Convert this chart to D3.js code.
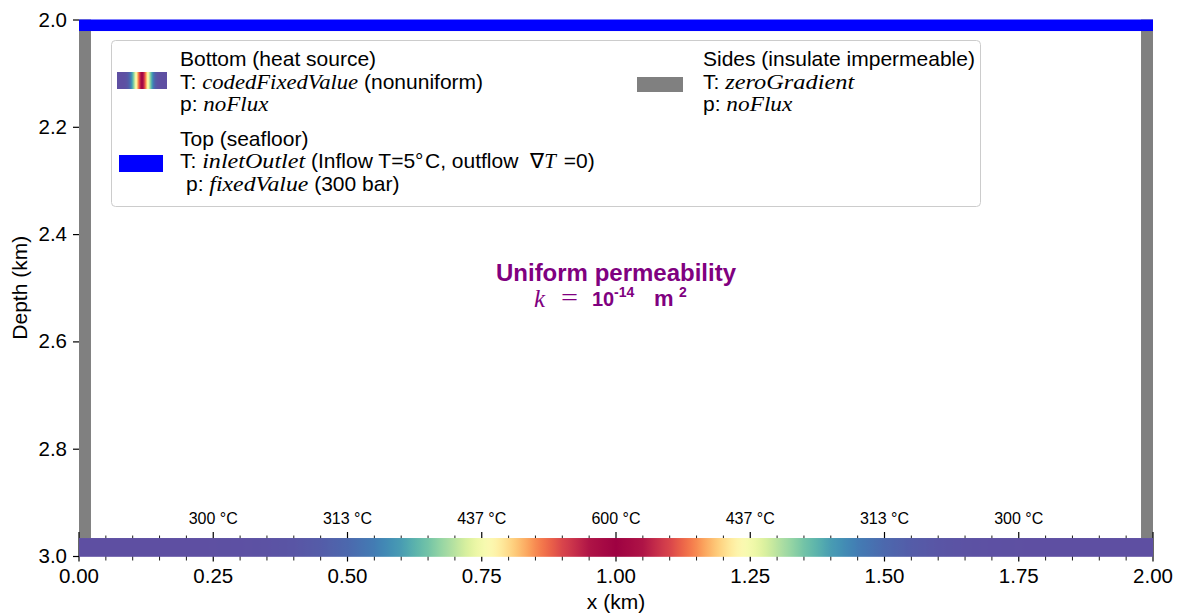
<!DOCTYPE html>
<html>
<head>
<meta charset="utf-8">
<script src="https://cdn.jsdelivr.net/npm/d3@7/dist/d3.min.js"></script>
<style>
  html, body { margin: 0; padding: 0; background: #fff; }
  svg { display: block; }
  text { font-family: "Liberation Sans", Arial, sans-serif; }
</style>
</head>
<body>
<svg id="chart" width="1180" height="614"></svg>
<script>
// ---------------- data ----------------
const xTicks = [0, 0.25, 0.5, 0.75, 1.0, 1.25, 1.5, 1.75, 2.0];
const xMinorTicks = d3.range(0, 41).map(i => i * 0.05);
const yTicks = [2.0, 2.2, 2.4, 2.6, 2.8, 3.0];
// bottom boundary temperature (°C) sampled along x (km)
const bottomX = [0.00, 0.05, 0.10, 0.15, 0.20, 0.25, 0.30, 0.35, 0.40, 0.45,
                 0.50, 0.55, 0.60, 0.65, 0.70, 0.75, 0.80, 0.85, 0.90, 0.95,
                 1.00, 1.05, 1.10, 1.15, 1.20, 1.25, 1.30, 1.35, 1.40, 1.45,
                 1.50, 1.55, 1.60, 1.65, 1.70, 1.75, 1.80, 1.85, 1.90, 1.95, 2.00];
const bottomT = [300.0, 300.0, 300.0, 300.0, 300.1, 300.3, 300.7, 301.5, 303.3, 306.8,
                 313.2, 323.9, 340.6, 364.9, 397.4, 437.3, 482.0, 526.4, 564.8, 590.8,
                 600.0, 590.8, 564.8, 526.4, 482.0, 437.3, 397.4, 364.9, 340.6, 323.9,
                 313.2, 306.8, 303.3, 301.5, 300.7, 300.3, 300.1, 300.0, 300.0, 300.0, 300.0];
const tempLabelX = [0.25, 0.5, 0.75, 1.0, 1.25, 1.5, 1.75];
const tempLabelT = [300, 313, 437, 600, 437, 313, 300];
const tRange = [300, 600];

// ---------------- setup ----------------
const svg = d3.select("#chart");
const x = d3.scaleLinear().domain([0, 2]).range([79, 1153]);
const y = d3.scaleLinear().domain([2, 3]).range([19.5, 556]);
const tNorm = d3.scaleLinear().domain(tRange).range([0, 1]).clamp(true);
const tColor = T => d3.interpolateSpectral(1 - tNorm(T));
const tAt = d3.scaleLinear().domain(bottomX).range(bottomT);

const defs = svg.append("defs");
const grad = defs.append("linearGradient").attr("id", "heatGrad")
  .attr("x1", "0%").attr("x2", "100%").attr("y1", "0%").attr("y2", "0%");
d3.range(0, 401).forEach(i => {
  const xv = i / 200;
  grad.append("stop").attr("offset", (xv / 2 * 100) + "%").attr("stop-color", tColor(tAt(xv)));
});

// side walls (gray)
const sideW = 0.0223;
svg.append("rect").attr("x", x(0)).attr("width", x(sideW) - x(0))
  .attr("y", y(2.0)).attr("height", y(2.9665) - y(2.0)).attr("fill", "#808080");
svg.append("rect").attr("x", x(2 - sideW)).attr("width", x(2) - x(2 - sideW))
  .attr("y", y(2.0)).attr("height", y(2.9665) - y(2.0)).attr("fill", "#808080");

// top (seafloor) blue
svg.append("rect").attr("x", x(0)).attr("width", x(2) - x(0))
  .attr("y", y(2.0)).attr("height", y(2.0215) - y(2.0)).attr("fill", "#0000ff");

// x ticks (inout), drawn under the bottom colour bar
svg.append("g").selectAll("line").data(xMinorTicks.filter(v => !xTicks.some(t => Math.abs(t - v) < 1e-9)))
  .join("line").attr("x1", d => x(d)).attr("x2", d => x(d))
  .attr("y1", y(2.9665) - 2.5).attr("y2", y(3.0) + 4.5)
  .attr("stroke", "#000").attr("stroke-width", 0.9);
svg.append("g").selectAll("line").data(xTicks)
  .join("line").attr("x1", d => x(d)).attr("x2", d => x(d))
  .attr("y1", y(2.9665) - 6).attr("y2", y(3.0) + 5.5)
  .attr("stroke", "#000").attr("stroke-width", 1.2);

// bottom heat source bar
svg.append("rect").attr("x", x(0)).attr("width", x(2) - x(0))
  .attr("y", y(2.9665)).attr("height", y(3.0015) - y(2.9665)).attr("fill", "url(#heatGrad)");

// x tick labels
svg.append("g").selectAll("text").data(xTicks).join("text")
  .attr("x", d => x(d)).attr("y", 583).attr("text-anchor", "middle")
  .style("font-size", "20.5px").text(d => d3.format(".2f")(d));
svg.append("text").attr("x", x(1.0)).attr("y", 609).attr("text-anchor", "middle")
  .style("font-size", "21px").text("x (km)");

// y axis
const yAxis = d3.axisLeft(y).tickValues(yTicks).tickFormat(d3.format(".1f")).tickSize(6).tickPadding(6);
const yg = svg.append("g").attr("transform", `translate(${x(0)},0)`).call(yAxis);
yg.select(".domain").remove();
yg.selectAll(".tick line").attr("stroke", "#000").attr("stroke-width", 1.2);
yg.selectAll(".tick text").style("font-size", "20.5px").attr("fill", "#000")
  .style("font-family", '"Liberation Sans", Arial, sans-serif');
svg.append("text").attr("transform", `translate(27,${y(2.5)}) rotate(-90)`)
  .attr("text-anchor", "middle").style("font-size", "21px").text("Depth (km)");

// temperature labels over the bar
svg.append("g").selectAll("text").data(tempLabelX).join("text")
  .attr("x", d => x(d)).attr("y", 524).attr("text-anchor", "middle")
  .style("font-size", "16px").text((d, i) => tempLabelT[i] + " \u00b0C");

// title
const cx = x(1.0);
svg.append("text").attr("x", cx).attr("y", 281).attr("text-anchor", "middle")
  .style("font-size", "24px").style("font-weight", "bold").attr("fill", "#800080")
  .text("Uniform permeability");
const l2 = svg.append("g").attr("fill", "#800080");
l2.append("text").attr("x", cx - 82).attr("y", 307).style("font-family", '"Liberation Serif", serif')
  .style("font-style", "italic").style("font-size", "25px").text("k");
l2.append("text").attr("x", cx - 55).attr("y", 306).style("font-family", '"Liberation Serif", serif')
  .style("font-size", "25px").attr("textLength", 17).attr("lengthAdjust", "spacingAndGlyphs").text("=");
l2.append("text").attr("x", cx - 24).attr("y", 305.5).style("font-size", "20px").style("font-weight", "bold").text("10");
l2.append("text").attr("x", cx - 2).attr("y", 297).style("font-size", "14px").style("font-weight", "bold").text("-14");
l2.append("text").attr("x", cx + 38).attr("y", 305.5).style("font-size", "22px").style("font-weight", "bold").text("m");
l2.append("text").attr("x", cx + 63).attr("y", 297).style("font-size", "14px").style("font-weight", "bold").text("2");

// ---------------- legend ----------------
const lg = svg.append("g");
lg.append("rect").attr("x", 111.5).attr("y", 40.5).attr("width", 869).attr("height", 166)
  .attr("rx", 4).attr("fill", "#fff").attr("fill-opacity", 0.8)
  .attr("stroke", "#cccccc").attr("stroke-width", 1);

const sans = { family: '"Liberation Sans", Arial, sans-serif', style: "normal", size: 21 };
const mathIt = { family: '"Liberation Serif", serif', style: "italic", size: 21 };
function line(x0, yb, pieces) {
  let cur = x0;
  pieces.forEach(p => {
    const f = p.math ? mathIt : sans;
    const t = lg.append("text").attr("x", cur).attr("y", yb)
      .style("font-family", f.family).style("font-style", f.style)
      .style("font-size", (p.size || f.size) + "px").attr("xml:space", "preserve")
      .style("white-space", "pre").text(p.t);
    if (p.w) t.attr("textLength", p.w).attr("lengthAdjust", "spacingAndGlyphs");
    cur += (p.w || t.node().getComputedTextLength()) + (p.gap || 0);
  });
}

// swatches
lg.append("rect").attr("x", 117).attr("y", 72).attr("width", 50).attr("height", 17).attr("fill", "url(#heatGrad)");
lg.append("rect").attr("x", 119).attr("y", 155).attr("width", 44).attr("height", 17).attr("fill", "#0000ff");
lg.append("rect").attr("x", 637).attr("y", 77).attr("width", 46).attr("height", 15).attr("fill", "#808080");

line(180, 65.5, [{ t: "Bottom (heat source)" }]);
line(180, 88.5, [{ t: "T: " }, { t: "codedFixedValue", math: true, w: 156 }, { t: " (nonuniform)" }]);
line(180, 110.5, [{ t: "p: " }, { t: "noFlux", math: true, w: 65 }]);
line(180, 146, [{ t: "Top (seafloor)" }]);
line(180, 168, [{ t: "T: " }, { t: "inletOutlet", math: true, w: 103 },
  { t: " (Inflow T=5" }, { t: "\u00b0", gap: 1.5 }, { t: "C, outflow " , gap: 6},
  { t: "\u2207", size: 21, gap: 0 }, { t: "T", math: true, gap: 2 }, { t: " =0)" }]);
line(186, 190.5, [{ t: "p: " }, { t: "fixedValue", math: true, w: 99 }, { t: " (300 bar)" }]);

line(703, 65.5, [{ t: "Sides (insulate impermeable)" }]);
line(703, 88.5, [{ t: "T: " }, { t: "zeroGradient", math: true, w: 129 }]);
line(703, 110.5, [{ t: "p: " }, { t: "noFlux", math: true, w: 66 }]);
</script>
</body>
</html>
